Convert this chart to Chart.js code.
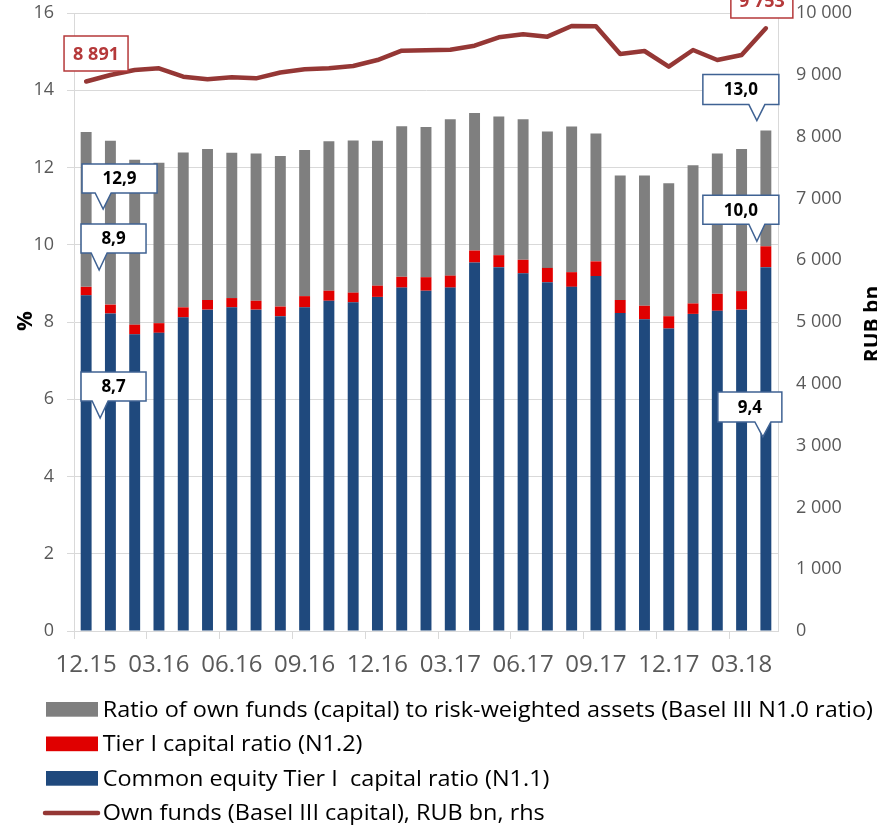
<!DOCTYPE html>
<html><head><meta charset="utf-8">
<script src="https://cdn.jsdelivr.net/npm/chart.js@4.4.1/dist/chart.umd.min.js"></script>
<style>html,body{margin:0;padding:0;background:#fff;}#wrap{width:877px;height:826px;}</style>
</head><body><div id="wrap"><canvas id="c" width="877" height="826"></canvas></div>
<script>
// ---- data ----
const categories = ['12.15','01.16','02.16','03.16','04.16','05.16','06.16','07.16','08.16','09.16','10.16','11.16',
  '12.16','01.17','02.17','03.17','04.17','05.17','06.17','07.17','08.17','09.17','10.17','11.17','12.17','01.18','02.18','03.18','04.18'];
// N1.0 ratio, %
const n10 = [12.92,12.69,12.20,12.12,12.39,12.48,12.38,12.36,12.30,12.45,12.68,12.70,12.69,13.07,13.05,13.25,13.41,13.32,13.25,12.93,13.06,12.88,11.79,11.79,11.59,12.06,12.36,12.48,12.96];
// N1.2 ratio, %
const n12 = [8.91,8.45,7.93,7.97,8.38,8.57,8.62,8.55,8.40,8.67,8.81,8.76,8.94,9.17,9.16,9.20,9.85,9.73,9.61,9.40,9.29,9.57,8.57,8.42,8.15,8.48,8.73,8.80,9.96];
// N1.1 ratio, %
const n11 = [8.69,8.22,7.68,7.72,8.12,8.32,8.38,8.32,8.15,8.38,8.55,8.51,8.65,8.89,8.81,8.89,9.54,9.42,9.26,9.03,8.91,9.19,8.23,8.07,7.83,8.21,8.29,8.32,9.42];
// Own funds, RUB bn
const ownFunds = [8891,8997,9078,9105,8970,8927,8960,8943,9037,9089,9105,9142,9239,9390,9396,9406,9471,9606,9655,9617,9790,9785,9337,9385,9131,9401,9239,9320,9753];
const legendLabels = [
  'Ratio of own funds (capital) to risk-weighted assets (Basel III N1.0 ratio)',
  'Tier I capital ratio (N1.2)',
  'Common equity Tier I  capital ratio (N1.1)',
  'Own funds (Basel III capital), RUB bn, rhs'
];
const leftTitle = '%';
const rightTitle = 'RUB bn';

// ---- derived stack segments ----
const redSeg = n12.map((v,i)=>+(v - n11[i]).toFixed(3));
const graySeg = n10.map((v,i)=>+(v - n12[i]).toFixed(3));

const COLORS = {gray:'#7f7f7f', red:'#e00000', blue:'#1f497d', line:'#953735', grid:'#d9d9d9', tick:'#595959', callout:'#3f6293', redBox:'#b5393a'};
const FONT = '"Open Sans", "DejaVu Sans", sans-serif';

const fmtPct = v => v.toFixed(1).replace('.', ',');
const fmtNum = v => String(Math.round(v)).replace(/\B(?=(\d{3})+(?!\d))/g, ' ');

// callouts: series + index, geometry offsets relative to the data point
const callouts = [
  {src:'n10', i:0, dx:33.4, dy:46.5, w:75, h:29, tx:17, ty:77, kind:'blue'},
  {src:'n12', i:0, dx:27.4, dy:-48.3, w:65, h:29, tx:13, ty:-16.8, kind:'blue'},
  {src:'n11', i:0, dx:27.4, dy:91.1, w:65, h:29, tx:14, ty:122.6, kind:'blue'},
  {src:'n10', i:28, dx:-25, dy:-40.8, w:76, h:30, tx:-9, ty:-9.8, kind:'blue'},
  {src:'n12', i:28, dx:-25, dy:-36.6, w:76, h:29, tx:-9, ty:-5.1, kind:'blue'},
  {src:'n11', i:28, dx:-16, dy:139.8, w:64, h:30, tx:-3, ty:169.8, kind:'blue'},
  {src:'own', i:0, dx:9.9, dy:-28, w:64, h:35, kind:'red'},
  {src:'own', i:28, dx:-4, dy:-27.8, w:62, h:35, kind:'red'}
];
const series = {n10, n12, n11, own: ownFunds};

const overlay = {
  id:'overlay',
  afterDraw(chart){
    const ctx = chart.ctx, xs = chart.scales.x, ys = chart.scales.y, y2 = chart.scales.y2;
    ctx.save();
    // axis titles
    ctx.fillStyle = '#000';
    ctx.font = 'bold 22px ' + FONT;
    ctx.textAlign = 'center'; ctx.textBaseline = 'alphabetic';
    ctx.save(); ctx.translate(32, 321); ctx.rotate(-Math.PI/2); ctx.fillText(leftTitle, 0, 0); ctx.restore();
    ctx.font = 'bold 21px ' + FONT;
    ctx.save(); ctx.translate(879, 324); ctx.rotate(-Math.PI/2); ctx.fillText(rightTitle, 0, 0); ctx.restore();

    // callouts
    callouts.forEach(c => {
      const v = series[c.src][c.i];
      const px = xs.getPixelForValue(c.i);
      const py = (c.src === 'own' ? y2 : ys).getPixelForValue(v);
      const cx = px + c.dx, cy = py + c.dy;
      const l = cx - c.w/2, r = cx + c.w/2, t = cy - c.h/2, b = cy + c.h/2;
      ctx.beginPath();
      ctx.moveTo(l, t); ctx.lineTo(r, t); ctx.lineTo(r, b);
      if (c.kind === 'blue') {
        const tipX = px + c.tx, tipY = py + c.ty;
        ctx.lineTo(tipX + 8, b); ctx.lineTo(tipX, tipY); ctx.lineTo(tipX - 8, b);
      }
      ctx.lineTo(l, b); ctx.closePath();
      ctx.fillStyle = '#fff'; ctx.fill();
      ctx.lineWidth = 1.5;
      ctx.strokeStyle = c.kind === 'blue' ? COLORS.callout : COLORS.redBox;
      ctx.stroke();
      ctx.textAlign = 'center'; ctx.textBaseline = 'middle';
      if (c.kind === 'blue') {
        ctx.fillStyle = '#000'; ctx.font = 'bold 17px ' + FONT;
        ctx.fillText(fmtPct(v), cx, cy + 1);
      } else {
        ctx.fillStyle = COLORS.redBox; ctx.font = 'bold 18px ' + FONT;
        ctx.fillText(fmtNum(v), cx, cy + 1);
      }
    });

    // legend
    const items = [
      {type:'box', color: COLORS.gray, text: legendLabels[0]},
      {type:'box', color: COLORS.red, text: legendLabels[1]},
      {type:'box', color: COLORS.blue, text: legendLabels[2]},
      {type:'line', color: COLORS.line, text: legendLabels[3]}
    ];
    ctx.font = '21px ' + FONT;
    const w0 = ctx.measureText(items[0].text).width;
    const sx = (873 - 102.7) / w0;
    items.forEach((it, k) => {
      const top = 702 + k * 34.5, bot = top + 14.7;
      if (it.type === 'box') {
        ctx.fillStyle = it.color; ctx.fillRect(46, top, 52, bot - top);
      } else {
        ctx.strokeStyle = it.color; ctx.lineWidth = 4.5; ctx.lineCap = 'round';
        ctx.beginPath(); ctx.moveTo(45, top + 7.5); ctx.lineTo(98, top + 7.5); ctx.stroke();
      }
      ctx.save();
      ctx.translate(102.7, bot); ctx.scale(sx, 1);
      ctx.fillStyle = '#000'; ctx.textAlign = 'left'; ctx.textBaseline = 'alphabetic';
      ctx.font = '21px ' + FONT;
      ctx.fillText(it.text, 0, 0);
      ctx.restore();
    });
    ctx.restore();
  }
};

function build(){
  new Chart(document.getElementById('c'), {
    data: {
      labels: categories,
      datasets: [
        {type:'line', label: legendLabels[3], data: ownFunds, yAxisID:'y2', order:0,
         borderColor: COLORS.line, borderWidth:4.5, pointRadius:0, tension:0, fill:false,
         borderCapStyle:'round', borderJoinStyle:'round'},
        {type:'bar', label: legendLabels[2], data: n11, yAxisID:'y', stack:'s', order:1,
         backgroundColor: COLORS.blue, barPercentage:0.45, categoryPercentage:1},
        {type:'bar', label: legendLabels[1], data: redSeg, yAxisID:'y', stack:'s', order:1,
         backgroundColor: COLORS.red, barPercentage:0.45, categoryPercentage:1},
        {type:'bar', label: legendLabels[0], data: graySeg, yAxisID:'y', stack:'s', order:1,
         backgroundColor: COLORS.gray, barPercentage:0.45, categoryPercentage:1}
      ]
    },
    options: {
      responsive:false, animation:false, devicePixelRatio:1,
      layout:{padding:{top:13, left:0, right:0, bottom:136}},
      plugins:{legend:{display:false}, tooltip:{enabled:false}},
      scales:{
        x:{type:'category', stacked:true, offset:true,
           grid:{offset:true, drawOnChartArea:false, drawTicks:true, tickLength:8,
                 tickColor: c => (c.index !== undefined && c.index % 3 === 0) ? COLORS.grid : 'rgba(0,0,0,0)'},
           border:{color:COLORS.grid, width:1},
           ticks:{autoSkip:false, maxRotation:0, minRotation:0, padding:12, color:COLORS.tick,
                  font:{family:FONT, size:24},
                  callback:(v,i)=> i % 3 === 0 ? categories[i] : ''},
           afterFit: s => { s.height = 59; s.paddingLeft = 0; s.paddingRight = 0; }},
        y:{position:'left', stacked:true, min:0, max:16,
           grid:{color:COLORS.grid, tickLength:7, lineWidth:1},
           border:{color:COLORS.grid},
           ticks:{stepSize:2, padding:13, color:COLORS.tick, font:{family:FONT, size:18}},
           afterFit: s => { s.width = 74; s.paddingTop = 0; s.paddingBottom = 0; }},
        y2:{position:'right', min:0, max:10000,
           grid:{display:false, drawTicks:false},
           border:{color:COLORS.grid},
           ticks:{stepSize:1000, padding:18, color:COLORS.tick, font:{family:FONT, size:18},
                  callback: v => fmtNum(v)},
           afterFit: s => { s.width = 99; s.paddingTop = 0; s.paddingBottom = 0; }}
      }
    },
    plugins:[overlay]
  });
}
const fontsReady = document.fonts ? Promise.all([
  document.fonts.load('24px "Open Sans"'), document.fonts.load('bold 18px "Open Sans"')
]).catch(()=>{}) : Promise.resolve();
Promise.race([fontsReady, new Promise(r=>setTimeout(r,800))]).then(build);
</script>
</body></html>
